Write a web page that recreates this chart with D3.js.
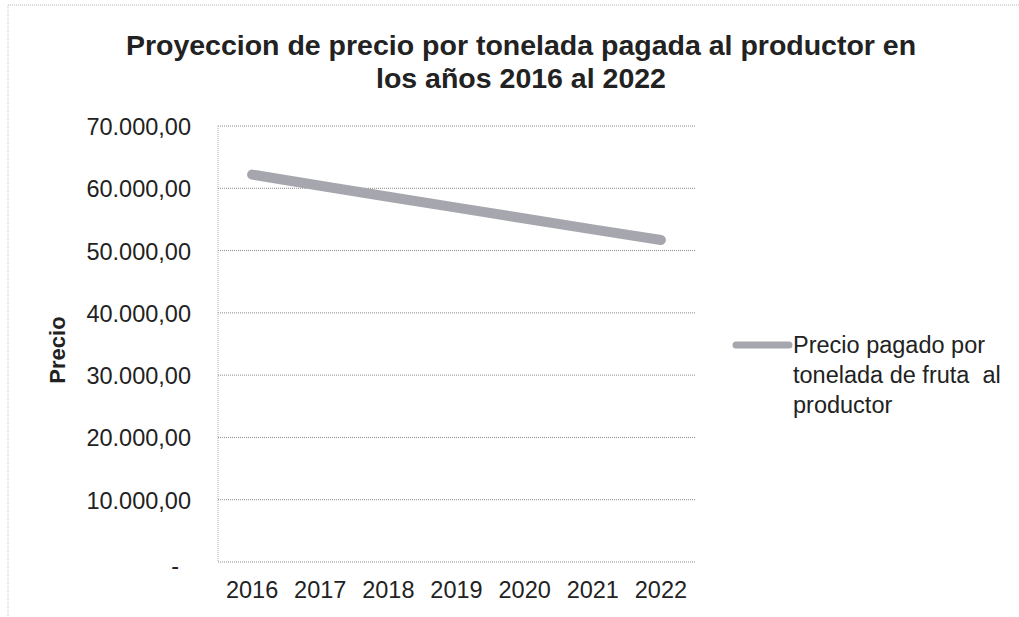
<!DOCTYPE html>
<html>
<head>
<meta charset="utf-8">
<script src="https://cdn.jsdelivr.net/npm/d3@7"></script>
<style>
  html, body { margin: 0; padding: 0; background: #fff; }
  svg { display: block; font-family: "Liberation Sans", Arial, sans-serif; }
  .keep-spaces { white-space: pre; }
</style>
</head>
<body>
<svg id="chart" width="1019" height="617"></svg>
<script>
// Projected price per tonne paid to the producer, 2016–2022
const years = ["2016", "2017", "2018", "2019", "2020", "2021", "2022"];
const precio = [62200, 60400, 58650, 56900, 55150, 53400, 51700];
const yTicks = [0, 10000, 20000, 30000, 40000, 50000, 60000, 70000];
const titleLines = ["Proyeccion de precio por tonelada pagada al productor en", "los años 2016 al 2022"];
const legendLines = ["Precio pagado por", "tonelada de fruta  al", "productor"];
const yTitle = "Precio";

const svg = d3.select("#chart");
const W = 1019, H = 617;
const plot = { left: 218, right: 695, top: 126, bottom: 562 };

// outer frame (dotted, light)
svg.append("line").attr("x1", 8).attr("x2", W).attr("y1", 5).attr("y2", 5)
  .attr("stroke", "#b5b5b5").attr("stroke-width", 1).attr("stroke-dasharray", "1,1");
svg.append("line").attr("x1", 8).attr("x2", 8).attr("y1", 5).attr("y2", H)
  .attr("stroke", "#c4c4c4").attr("stroke-width", 1).attr("stroke-dasharray", "1,1");

// title
svg.append("text")
  .attr("text-anchor", "middle")
  .attr("font-size", 28.5).attr("font-weight", "bold").attr("fill", "#222")
  .selectAll("tspan").data(titleLines).join("tspan")
  .attr("x", 521).attr("y", (d, i) => 55 + i * 33).text(d => d);

const x = d3.scaleBand().domain(years).range([plot.left, plot.right]);
const y = d3.scaleLinear().domain([0, 70000]).range([plot.bottom, plot.top]);

// number format with "." thousands and "," decimals
const es = d3.formatLocale({ decimal: ",", thousands: ".", grouping: [3], currency: ["", ""] });
const fmt = v => v === 0 ? "-" : es.format(",.2f")(v);

// gridlines
svg.append("g").selectAll("line").data(yTicks).join("line")
  .attr("x1", plot.left).attr("x2", plot.right)
  .attr("y1", d => y(d)).attr("y2", d => y(d))
  .attr("stroke", "#8a8a8a").attr("stroke-width", 1).attr("stroke-dasharray", "1,1");

// left plot edge
svg.append("line").attr("x1", plot.left).attr("x2", plot.left)
  .attr("y1", plot.top).attr("y2", plot.bottom)
  .attr("stroke", "#b0b0b0").attr("stroke-width", 1).attr("stroke-dasharray", "1,1");

// y axis labels
const yAxis = d3.axisLeft(y).tickValues(yTicks).tickFormat(fmt).tickSize(0).tickPadding(0);
const gy = svg.append("g").attr("transform", `translate(${191},0)`).call(yAxis);
gy.select(".domain").remove();
gy.selectAll("text").attr("font-size", 23.5).attr("fill", "#222")
  .attr("font-family", "Liberation Sans, Arial, sans-serif")
  .attr("dy", "0.36em");
gy.selectAll(".tick").filter(d => d === 0).select("text").attr("dx", -12).attr("dy", "0.5em");

// x axis labels
const xAxis = d3.axisBottom(x).tickSize(0).tickPadding(0);
const gx = svg.append("g").attr("transform", `translate(0,${plot.bottom + 19})`).call(xAxis);
gx.select(".domain").remove();
gx.selectAll("text").attr("font-size", 23.5).attr("fill", "#222")
  .attr("font-family", "Liberation Sans, Arial, sans-serif");

// y axis title
svg.append("text")
  .attr("transform", `translate(65,350) rotate(-90)`)
  .attr("text-anchor", "middle")
  .attr("font-size", 22).attr("font-weight", "bold").attr("fill", "#222")
  .text(yTitle);

// series line
const line = d3.line().x((d, i) => x(years[i]) + x.bandwidth() / 2).y(d => y(d));
svg.append("path").datum(precio)
  .attr("d", line)
  .attr("fill", "none").attr("stroke", "#a6a6ae").attr("stroke-width", 10)
  .attr("stroke-linecap", "round").attr("stroke-linejoin", "round");

// legend
svg.append("line").attr("x1", 736).attr("x2", 789).attr("y1", 345).attr("y2", 345)
  .attr("stroke", "#a6a6ae").attr("stroke-width", 7).attr("stroke-linecap", "round");
svg.append("text")
  .attr("class", "keep-spaces")
  .attr("font-size", 23.5).attr("fill", "#222")
  .selectAll("tspan").data(legendLines).join("tspan")
  .attr("x", 793).attr("y", (d, i) => 353 + i * 30).text(d => d);
</script>
</body>
</html>
